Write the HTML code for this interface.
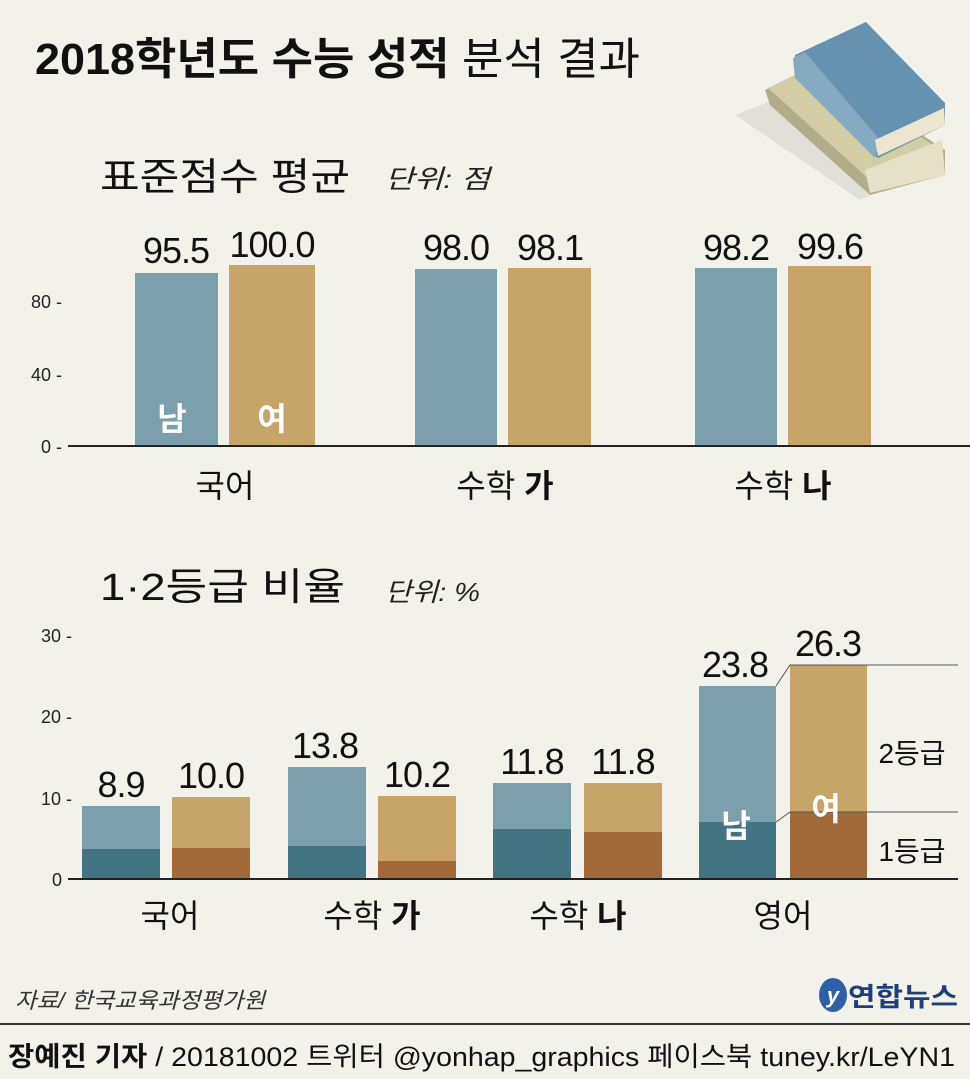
<!DOCTYPE html>
<html><head><meta charset="utf-8"><style>
body{margin:0;background:#f3f2ea;}
svg{display:block;font-family:"Liberation Sans","Noto Sans CJK KR",sans-serif;}
</style></head><body>
<svg width="970" height="1079" viewBox="0 0 970 1079">
<rect width="970" height="1079" fill="#f3f2ea"/>
<text x="35" y="74" font-size="44" fill="#111" textLength="605" lengthAdjust="spacingAndGlyphs" font-weight="bold">2018학년도 수능 성적 <tspan font-weight="normal">분석 결과</tspan></text>
<!-- books -->
<polygon points="735,115 800,90 900,180 860,200" fill="#dcdbd3" opacity="0.8"/>
<polygon points="765,90 815,65 945,150 945,175 870,195 770,105" fill="#b2ad88"/>
<polygon points="768,88 815,65 940,150 870,180" fill="#d2cda3"/>
<polygon points="865,170 942,140 945,175 870,193" fill="#e6e0c8"/>
<polygon points="795,55 866,22 945,103 945,125 878,158 795,75" fill="#6592b0"/>
<polygon points="793,58 805,52 880,140 875,158 795,78" fill="#84abbf"/>
<polygon points="875,140 944,108 945,125 878,156" fill="#ece6cf"/>
<text x="100" y="190" font-size="38" fill="#111" textLength="250" lengthAdjust="spacingAndGlyphs">표준점수 평균</text>
<text x="385" y="188" font-size="26" fill="#222" font-style="italic" textLength="105" lengthAdjust="spacingAndGlyphs">단위: 점</text>
<!-- top chart -->
<g font-size="18" fill="#222" text-anchor="end">
<text x="62" y="308">80 -</text><text x="62" y="381">40 -</text><text x="62" y="453">0 -</text></g>
<rect x="135" y="273" width="83" height="173" fill="#7b9fab"/>
<rect x="229" y="265" width="86" height="181" fill="#c7a468"/>
<rect x="415" y="269" width="82" height="177" fill="#7b9fab"/>
<rect x="508" y="268" width="83" height="178" fill="#c7a468"/>
<rect x="695" y="268" width="82" height="178" fill="#7b9fab"/>
<rect x="788" y="266" width="83" height="180" fill="#c7a468"/>
<line x1="68" y1="446" x2="970" y2="446" stroke="#222" stroke-width="2"/>
<g font-size="36" fill="#111" text-anchor="middle" letter-spacing="-1">
<text x="176" y="263">95.5</text><text x="272" y="257">100.0</text>
<text x="456" y="260">98.0</text><text x="550" y="260">98.1</text>
<text x="736" y="260">98.2</text><text x="830" y="259">99.6</text></g>
<text x="172" y="430" font-size="32" fill="#fff" text-anchor="middle" font-weight="bold">남</text>
<text x="272" y="430" font-size="32" fill="#fff" text-anchor="middle" font-weight="bold">여</text>
<g font-size="32" fill="#111" text-anchor="middle">
<text x="225" y="497">국어</text><text x="505" y="497">수학 <tspan font-weight="bold">가</tspan></text><text x="783" y="497">수학 <tspan font-weight="bold">나</tspan></text></g>
<!-- bottom chart -->
<text x="100" y="600" font-size="38" fill="#111" textLength="245" lengthAdjust="spacingAndGlyphs">1·2등급 비율</text>
<text x="385" y="601" font-size="26" fill="#222" font-style="italic" textLength="95" lengthAdjust="spacingAndGlyphs">단위: %</text>
<g font-size="18" fill="#222" text-anchor="end">
<text x="72" y="642">30 -</text><text x="72" y="723">20 -</text><text x="72" y="805">10 -</text><text x="62" y="886">0</text></g>
<g>
<rect x="82" y="806" width="78" height="73" fill="#7b9fab"/><rect x="82" y="849" width="78" height="30" fill="#427381"/>
<rect x="172" y="797" width="78" height="82" fill="#c7a468"/><rect x="172" y="848" width="78" height="31" fill="#a26a38"/>
<rect x="288" y="767" width="78" height="112" fill="#7b9fab"/><rect x="288" y="846" width="78" height="33" fill="#427381"/>
<rect x="378" y="796" width="78" height="83" fill="#c7a468"/><rect x="378" y="861" width="78" height="18" fill="#a26a38"/>
<rect x="493" y="783" width="78" height="96" fill="#7b9fab"/><rect x="493" y="829" width="78" height="50" fill="#427381"/>
<rect x="584" y="783" width="78" height="96" fill="#c7a468"/><rect x="584" y="832" width="78" height="47" fill="#a26a38"/>
<rect x="699" y="686" width="77" height="193" fill="#7b9fab"/><rect x="699" y="822" width="77" height="57" fill="#427381"/>
<rect x="790" y="665" width="77" height="214" fill="#c7a468"/><rect x="790" y="812" width="77" height="67" fill="#a26a38"/>
</g>
<g stroke="#555" stroke-width="1" fill="none">
<polyline points="776,686 790,665 958,665"/><polyline points="776,822 790,812 958,812"/></g>
<line x1="68" y1="879" x2="958" y2="879" stroke="#222" stroke-width="2"/>
<g font-size="36" fill="#111" text-anchor="middle" letter-spacing="-1">
<text x="121" y="797">8.9</text><text x="211" y="788">10.0</text>
<text x="325" y="758">13.8</text><text x="417" y="787">10.2</text>
<text x="532" y="774">11.8</text><text x="623" y="774">11.8</text>
<text x="735" y="677">23.8</text><text x="828" y="656">26.3</text></g>
<text x="736" y="837" font-size="32" fill="#fff" text-anchor="middle" font-weight="bold">남</text>
<text x="826" y="820" font-size="32" fill="#fff" text-anchor="middle" font-weight="bold">여</text>
<g font-size="28" fill="#111" text-anchor="middle"><text x="912" y="763">2등급</text><text x="912" y="861">1등급</text></g>
<g font-size="32" fill="#111" text-anchor="middle">
<text x="170" y="927">국어</text><text x="372" y="927">수학 <tspan font-weight="bold">가</tspan></text><text x="578" y="927">수학 <tspan font-weight="bold">나</tspan></text><text x="783" y="927">영어</text></g>
<text x="15" y="1008" font-size="22" fill="#333" font-style="italic" textLength="250" lengthAdjust="spacingAndGlyphs">자료/ 한국교육과정평가원</text>
<ellipse cx="833" cy="995" rx="14" ry="17" fill="#2f5fa6"/>
<text x="833" y="1003" font-size="22" fill="#fff" text-anchor="middle" font-style="italic" font-weight="bold">y</text>
<text x="848" y="1006" font-size="26" fill="#1f3f7a" font-weight="bold" textLength="110" lengthAdjust="spacingAndGlyphs">연합뉴스</text>
<line x1="0" y1="1024" x2="970" y2="1024" stroke="#333" stroke-width="2"/>
<text x="8" y="1066" font-size="27" fill="#111" textLength="947" lengthAdjust="spacingAndGlyphs"><tspan font-weight="bold">장예진 기자</tspan> / 20181002  트위터 @yonhap_graphics  페이스북 tuney.kr/LeYN1</text>
</svg>
</body></html>
